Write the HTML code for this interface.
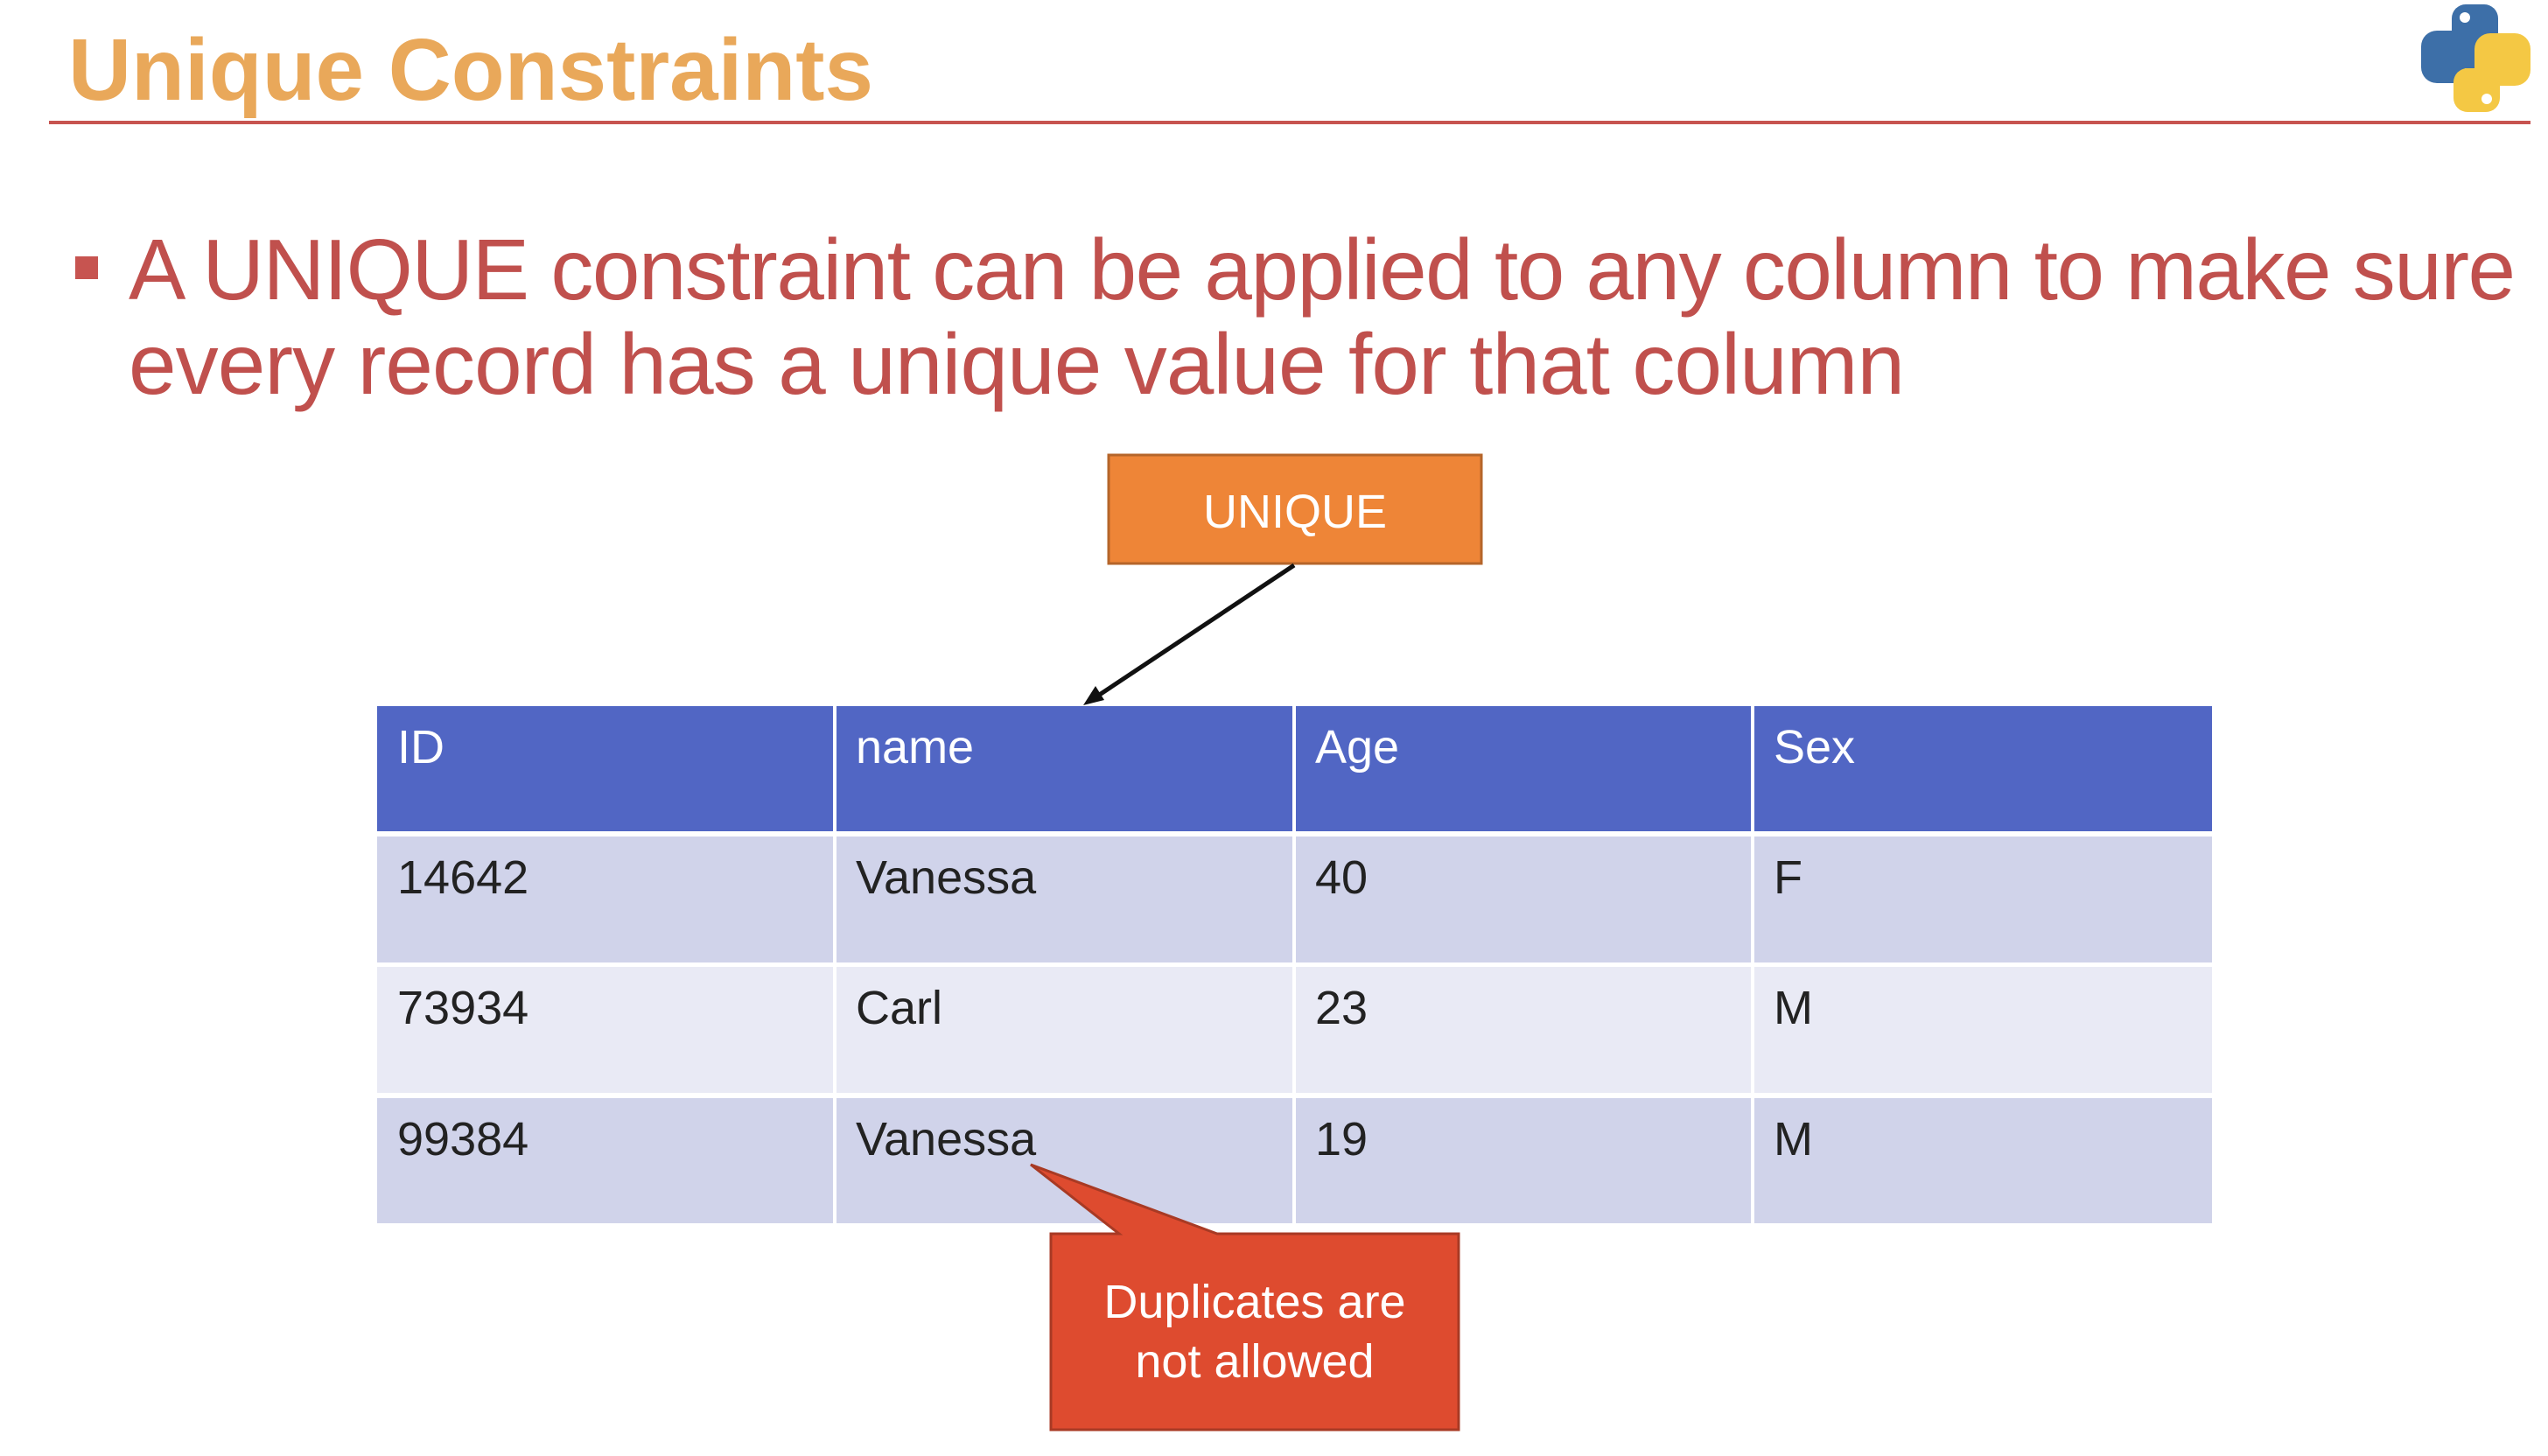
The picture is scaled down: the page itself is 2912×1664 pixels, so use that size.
<!DOCTYPE html>
<html><head><meta charset="utf-8"><style>
html,body{margin:0;padding:0;background:#fff;width:2912px;height:1664px;overflow:hidden}
text{font-family:"Liberation Sans Narrow","Liberation Sans",sans-serif}
</style></head><body>
<svg width="2912" height="1664" viewBox="0 0 2912 1664" xmlns="http://www.w3.org/2000/svg">
<text x="78" y="114" font-size="100" font-weight="bold" fill="#E9A85A" textLength="920" lengthAdjust="spacingAndGlyphs">Unique Constraints</text>
<rect x="56" y="138" width="2836" height="4" fill="#C75450"/>
<g transform="translate(2767,5)">
<rect x="35" y="0" width="53" height="50" rx="16" fill="#3D6FA8"/>
<rect x="0" y="30" width="64" height="60" rx="18" fill="#3D6FA8"/>
<rect x="35" y="30" width="40" height="20" fill="#3D6FA8"/>
<rect x="37" y="73" width="53" height="50" rx="16" fill="#F4C844"/>
<rect x="61" y="33" width="64" height="60" rx="18" fill="#F4C844"/>
<rect x="50" y="73" width="40" height="20" fill="#F4C844"/>
<circle cx="50" cy="15" r="6" fill="#fff"/>
<circle cx="75" cy="108" r="6" fill="#fff"/>
</g>
<rect x="86" y="293" width="26" height="26" fill="#C75450"/>
<text x="147" y="342" font-size="98" fill="#C0504D" textLength="2728">A UNIQUE constraint can be applied to any column to make sure</text>
<text x="147" y="450" font-size="98" fill="#C0504D" textLength="2030">every record has a unique value for that column</text>
<rect x="1267" y="520" width="426" height="124" fill="#EE8537" stroke="#B5652A" stroke-width="3"/>
<text x="1480" y="603" font-size="54" fill="#fff" text-anchor="middle">UNIQUE</text>
<line x1="1479" y1="646" x2="1252" y2="797" stroke="#111" stroke-width="5"/>
<polygon points="1238,806 1252,784 1262,800" fill="#111"/>
<g>
<rect x="431" y="807" width="2097" height="143" fill="#5166C4"/>
<rect x="431" y="956" width="2097" height="144" fill="#D0D3EA"/>
<rect x="431" y="1105" width="2097" height="144" fill="#E9EAF5"/>
<rect x="431" y="1255" width="2097" height="143" fill="#D0D3EA"/>
<rect x="952" y="807" width="4" height="591" fill="#fff"/>
<rect x="1477" y="807" width="4" height="591" fill="#fff"/>
<rect x="2001" y="807" width="4" height="591" fill="#fff"/>
<g font-size="54" fill="#fff">
<text x="454" y="872">ID</text>
<text x="978" y="872">name</text>
<text x="1503" y="872">Age</text>
<text x="2027" y="872">Sex</text>
</g>
<g font-size="54" fill="#222">
<text x="454" y="1021">14642</text><text x="978" y="1021">Vanessa</text><text x="1503" y="1021">40</text><text x="2027" y="1021">F</text>
<text x="454" y="1170">73934</text><text x="978" y="1170">Carl</text><text x="1503" y="1170">23</text><text x="2027" y="1170">M</text>
<text x="454" y="1320">99384</text><text x="978" y="1320">Vanessa</text><text x="1503" y="1320">19</text><text x="2027" y="1320">M</text>
</g>
</g>
<g>
<path d="M1201 1410 H1279 L1178 1331 L1391 1410 H1667 V1634 H1201 Z" fill="#DE4B2F" stroke="#A83A24" stroke-width="3"/>
<text x="1434" y="1506" font-size="54" fill="#fff" text-anchor="middle">Duplicates are</text>
<text x="1434" y="1574" font-size="54" fill="#fff" text-anchor="middle">not allowed</text>
</g>
</svg>
</body></html>
